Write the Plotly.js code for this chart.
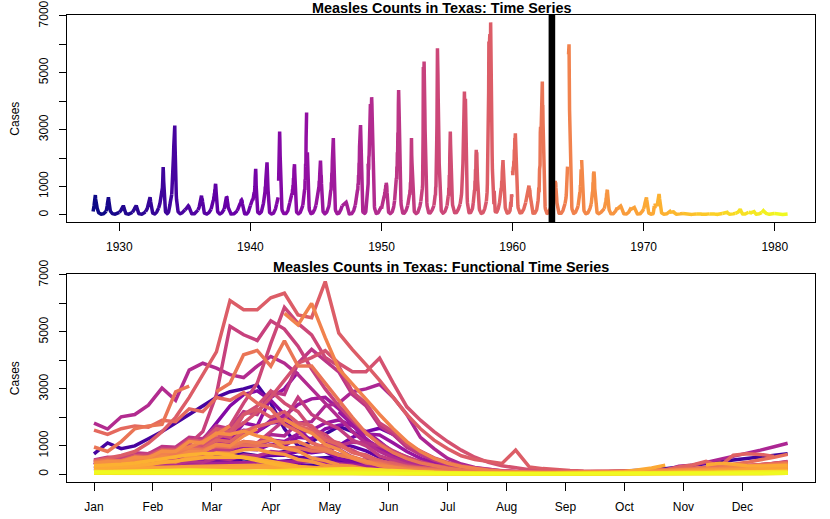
<!DOCTYPE html>
<html>
<head>
<meta charset="utf-8">
<script src="https://cdn.plot.ly/plotly-3.0.1.min.js"></script>
<style>html,body{margin:0;padding:0;background:#fff;}#chart{width:830px;height:519px;}</style>
</head>
<body>
<div id="chart"></div>
<script>
// Weekly measles counts in Texas, one array per year (weeks 1..52)
const years = [1928,1929,1930,1931,1932,1933,1934,1935,1936,1937,1938,1939,1940,1941,1942,1943,1944,1945,1946,1947,1948,1949,1950,1951,1952,1953,1954,1955,1956,1957,1958,1959,1960,1961,1962,1963,1964,1965,1966,1967,1968,1969,1970,1971,1972,1973,1974,1975,1976,1977,1978,1979,1980];
const y1928 = [120,150,180,260,330,420,480,560,650,700,560,420,480, 500,380,300,240,190,150,120,100,90,80,70,60,55, 50,45,40,35,30,30,28,25,25,22,25,28,30, 32,35,40,45,50,55,60,70,80,90,100,110,120];
const y1929 = [130,160,200,260,320,400,480,550,600,620,520,380,300, 280,240,200,160,130,110,95,80,70,60,55,50,45, 40,35,32,30,28,26,25,24,25,26,28,30,32, 35,38,42,46,50,55,60,65,70,75,80,85,90];
const y1930 = [90,95,100,110,120,130,150,170,190,210,230,250,270, 290,300,310,320,300,260,220,180,140,110,90,70,60, 50,45,40,35,30,28,26,25,24,24,25,26,28, 30,34,38,42,46,50,55,60,65,70,75,80,85];
const y1931 = [90,100,110,120,135,150,170,190,210,240,260,280,300, 315,325,330,300,260,220,180,150,120,100,80,65,55, 45,40,35,30,28,26,25,24,23,23,24,25,27, 30,33,36,40,45,50,55,60,70,80,90,100,110];
const y1932 = [110,120,130,150,170,190,210,230,260,290,320,350,380, 420,460,500,550,600,620,560,480,400,320,250,190,150, 120,95,80,65,55,48,42,38,35,34,35,38,42, 48,55,62,70,80,95,110,125,140,160,180,200,220];
const y1933 = [240,260,290,320,360,400,450,500,560,620,680,720,650, 700,800,950,1150,1400,1680,1500,1200,900,650,450,320,230, 170,130,100,80,70,60,55,50,50,55,60,70,85, 100,130,160,200,250,300,360,430,500,560,620,680,720];
const y1934 = [720,1100,900,1000,1250,1500,1800,2100,2400,2700,2900,3000,3140, 2500,1600,1000,900,850,700,550,420,320,250,190,150,120, 100,85,70,60,55,50,45,42,40,40,42,45,50, 55,60,70,80,90,100,110,120,130,140,150,160,170];
const y1935 = [170,175,180,190,200,210,220,235,250,265,280,295,305, 315,320,310,290,260,230,200,170,140,115,95,80,65, 55,48,42,38,35,32,30,30,30,32,35,38,42, 48,55,62,70,80,90,100,110,120,130,140,150,160];
const y1936 = [170,180,200,220,250,280,320,360,400,450,500,560,620, 660,680,600,560,550,480,380,290,220,170,130,100,80, 65,55,48,42,38,35,33,32,32,33,35,38,42, 48,55,62,70,80,90,100,110,125,140,155,170,190];
const y1937 = [200,230,220,280,270,340,330,420,410,520,500,640,620, 760,740,900,880,1040,1090,980,820,600,480,330,260,180, 130,100,80,65,55,48,42,38,35,34,35,38,42, 48,55,62,70,80,90,100,115,130,145,160,175,190];
const y1938 = [200,250,240,340,330,460,440,580,560,640,600,620,520, 490,380,360,260,240,180,160,115,100,72,62,50,42, 36,32,30,28,27,26,26,26,27,28,30,33,36, 40,45,50,56,62,70,80,90,100,110,120,130,140];
const y1939 = [150,170,160,200,190,240,230,280,270,340,320,400,380, 450,440,510,500,530,510,490,400,350,260,215,160,120, 95,75,60,50,42,37,33,31,30,30,32,35,40, 46,54,64,76,90,110,130,150,175,200,230,260,300];
const y1940 = [330,360,380,420,400,460,440,500,480,560,520,640,600, 720,680,800,760,820,1000,1300,1500,1620,1400,1000,700,480, 320,220,150,110,85,70,60,52,48,46,46,48,52, 58,66,76,90,105,125,150,180,210,250,290,330,380];
const y1941 = [420,480,500,620,600,760,820,1000,940,1200,1300,1550,1500, 1800,1850,1600,1500,1100,880,600,440,280,210,140,100,75, 60,50,44,40,37,35,34,34,35,37,40,45,52, 60,70,82,96,112,130,150,175,200,230,260,300,340];
const y1942 = [380,420,460,500,540,580,620,null,1200,1800,2400,2800,2930, 2600,2100,1600,1150,800,560,400,290,210,160,120,95,78, 65,56,50,46,43,41,40,40,41,43,46,50,56, 64,74,86,100,118,140,165,195,230,270,310,350,390];
const y1943 = [420,460,440,520,480,560,520,640,600,760,700,900,860, 1050,1000,1300,1250,1600,1720,1780,1500,1150,760,520,350,240, 170,125,95,75,62,54,48,44,42,42,44,48,54, 62,72,84,98,114,132,152,174,198,224,252,282,314];
const y1944 = [340,410,400,520,500,680,660,900,880,1250,1200,1800,1700, 2700,3000,3600,null,null,2200,1750,1200,950,620,480,320,250, 175,130,100,80,66,56,49,45,43,43,45,49,55, 63,73,85,99,115,133,153,175,199,225,253,283,315];
const y1945 = [340,400,380,460,450,560,520,640,620,800,760,950,1000, 1200,1150,1420,1550,1800,1910,1700,1420,1380,1100,800,560,390, 270,190,140,105,82,68,58,51,47,45,45,47,51, 57,65,75,88,103,120,140,163,188,215,245,278,313];
const y1946 = [350,420,400,520,500,680,640,880,850,1150,1100,1450,1500, 1900,2050,2450,2650,2700,2300,1750,1250,880,610,420,290,205, 150,112,87,71,60,53,48,45,44,44,46,49,54, 61,70,81,94,109,126,145,166,189,214,241,270,301];
const y1947 = [320,330,340,350,360,370,380,390,400,410,420,430,435, 440,445,440,445,420,380,330,270,210,160,120,90,70, 55,45,40,36,34,33,32,32,33,35,38,42,48, 55,63,73,85,100,118,138,160,185,212,242,275,310];
const y1948 = [340,400,380,470,450,560,540,700,680,880,860,1100,1050, 1400,1350,1800,1850,2400,2500,2900,3000,3160,2700,2100,1300,900, 560,360,240,165,120,92,75,64,57,53,52,53,56, 61,70,90,130,280,320,420,520,620,740,850,970,1090];
const y1949 = [1800,1590,2020,2100,2430,3030,2600,3660,3900,3730,3500,3400,3800, 4140,3900,3500,3000,2500,2000,1500,1100,800,580,420,300,220, 165,125,98,80,68,60,55,52,51,52,55,60,67, 76,87,100,115,132,150,170,190,210,230,250,270,290];
const y1950 = [220,260,240,310,290,380,350,460,420,560,520,680,640, 800,760,920,880,1050,1000,1130,1100,1000,800,600,430,300, 210,150,110,85,70,60,54,50,48,48,50,54,60, 68,78,90,104,120,140,165,195,230,270,320,380,450];
const y1951 = [500,600,580,760,720,980,950,1300,1250,1700,1600,2200,2100, 2900,2800,3900,4390,4000,3600,2800,2400,1700,1400,950,700,500, 360,260,190,140,110,90,76,66,60,57,56,58,62, 68,76,86,98,112,128,146,166,188,212,238,266,296];
const y1952 = [330,380,360,460,440,580,560,720,700,880,860,1150,1100, 1500,1900,2700,2100,1830,1600,1200,1000,650,500,340,250,185, 140,108,86,72,62,56,52,50,50,52,56,62,70, 80,93,108,126,147,171,198,228,261,297,336,378,423];
const y1953 = [470,520,580,650,730,820,930,1060,1500,2800,5200,4900,4700, 5390,5100,4500,3700,3000,2400,1900,1450,1100,820,600,440,320, 235,175,135,108,90,78,70,64,61,60,62,66,72, 80,90,102,116,132,150,170,192,216,242,270,300,330];
const y1954 = [330,400,380,520,500,700,680,960,1000,1500,1700,2500,3200, 4600,5860,5300,4900,4100,3800,2900,2500,1800,1500,1050,820,580, 420,300,220,165,128,103,86,75,68,64,62,63,66, 71,78,87,98,111,126,143,162,183,206,231,258,287];
const y1955 = [320,380,360,500,480,680,640,950,900,1400,1300,2100,2400, 2930,2500,2200,1600,1400,1000,850,600,500,350,300,210,170, 140,118,100,88,80,75,72,70,70,72,76,82,90, 100,112,126,142,160,180,202,226,252,280,310,342,376];
const y1956 = [380,420,470,530,600,680,780,900,1050,1250,1500,1800,2200, 2700,3300,3900,4100,4340,3900,3600,3600,4080,3200,2370,1900,1500, 1150,850,600,420,300,220,165,128,103,88,79,74,72, 73,76,82,90,101,115,132,152,175,201,230,262,297];
const y1957 = [420,500,470,650,620,880,850,1200,1150,1600,1500,2100,2285, 2000,2200,1800,1700,1250,1100,780,680,460,400,270,230,170, 132,105,86,73,64,58,54,52,52,54,58,64,72, 82,95,110,128,149,173,200,230,263,300,340,383,430];
const y1958 = [480,560,660,800,1100,1500,2000,2700,3500,4300,6100,5780,5780, 6200,6360,5600,5500,6770,4960,4380,3850,3300,2700,2100,1600,1200, 900,650,520,450,380,850,260,200,160,130,112,100,94, 92,94,100,110,124,142,164,190,220,254,292,334,380];
const y1959 = [420,480,460,600,580,760,720,950,900,1200,1150,1500,1680, 1800,1930,1700,1550,1200,1050,760,640,440,370,260,220,165, 132,108,91,79,71,66,63,62,63,66,71,78,88, 100,115,133,154,260,330,460,280,670,720,700,630,null];
const y1960 = [1550,1400,1600,1700,1650,1900,1850,2300,2200,2700,2600,2870,2500, 2300,1750,1500,1100,950,680,560,400,340,250,210,165,135, 113,97,86,78,73,70,69,70,72,76,82,90,100, 112,126,142,160,180,202,226,252,280,310,342,376,412];
const y1961 = [440,500,480,600,580,720,700,880,850,980,950,1030,1000, 1030,920,940,820,820,680,620,470,400,290,240,175,135, 106,86,73,64,58,55,54,54,56,60,66,74,84, 96,110,126,144,170,200,240,290,350,420,500,600,700];
const y1962 = [960,800,1150,1600,1700,1750,2900,3100,null,2900,3200,4200,4350, 3800,4690,3800,3800,3200,2600,2000,1450,1050,760,550,400,290, 210,155,118,93,77,67,61,58,57,58,62,68,76, 86,99,114,131,150,172,196,222,250,281,314,349,386];
const y1963 = [420,480,460,580,560,700,680,880,840,1050,1000,1150,1100, 1200,1100,1150,950,880,680,580,420,360,250,210,150,120, 95,78,66,58,53,50,48,48,49,52,56,62,70, 80,92,106,122,140,160,182,206,232,260,290,322,356];
const y1964 = [390,420,470,530,600,700,820,960,1150,1400,1700,null,null, null,5650,5250,6000,4800,3700,3150,2640,2100,1600,1150,800,560, 390,275,195,142,107,84,70,61,56,54,54,56,60, 66,74,84,96,110,126,144,164,186,210,236,264,294];
const y1965 = [320,380,360,480,460,620,600,800,780,1050,1000,1350,1600, null,1930,1650,1450,1050,870,580,460,300,245,170,135,102, 82,68,58,51,47,45,44,44,46,49,54,60,68, 78,90,104,120,138,158,180,204,230,258,288,320,354];
const y1966 = [380,450,430,600,580,820,800,1150,1100,1450,1400,1520,1350, 1250,930,820,570,480,330,280,190,160,112,96,76,64, 56,50,47,45,44,45,47,50,55,61,68,77,88, 96,104,112,120,128,136,144,152,160,170,180,190,200];
const y1967 = [220,260,250,330,320,450,430,600,580,760,740,860,880, 760,700,520,450,310,260,180,150,108,90,68,57,48, 42,38,35,33,32,32,33,35,38,42,47,53,60, 68,78,89,101,114,128,143,159,176,194,213,233,254];
const y1968 = [200,205,210,220,230,245,260,275,290,300,310,312,314, 316,300,270,235,200,165,135,110,90,74,61,51,43, 37,33,30,28,27,26,26,27,28,30,33,37,42, 48,55,63,72,82,93,105,118,132,147,163,180,198];
const y1969 = [190,195,200,205,212,220,228,236,244,252,258,263,267, 269,270,260,240,215,185,155,128,105,86,70,58,48, 41,36,32,29,27,26,26,26,27,29,32,36,41, 47,54,62,71,81,92,104,117,131,146,162,179,197];
const y1970 = [210,230,260,300,350,410,470,530,580,600,605,610,540, 450,360,280,215,165,127,98,77,62,51,43,37,33, 30,28,27,26,26,26,27,28,30,33,37,45,60, 90,150,220,320,null,null,330,390,350,300,290,300,310];
const y1971 = [300,320,350,400,460,540,620,690,720,730,680,580,470, 370,285,220,170,132,103,81,65,53,44,38,34,31, 29,27,26,25,25,25,25,26,27,28,30,32,35, 38,42,46,51,56,62,68,75,82,90,98,107,116];
const y1972 = [90,92,95,98,102,106,110,115,120,125,128,130,125, 118,108,96,84,72,61,52,44,38,33,29,26,24, 22,21,20,20,20,20,21,22,23,24,26,28,30, 32,34,36,38,40,42,44,46,48,50,52,54,56];
const y1973 = [50,48,46,45,44,43,42,42,41,41,40,40,39, 38,37,36,35,33,31,29,27,25,24,22,21,20, 19,18,18,17,17,17,17,17,18,18,19,20,21, 22,23,24,25,26,27,28,29,30,31,32,33,34];
const y1974 = [35,36,37,38,39,40,41,42,43,44,44,45,45, 44,43,42,40,38,35,32,29,26,24,22,20,19, 18,17,16,16,16,16,16,17,17,18,19,20,21, 22,23,24,25,26,27,28,29,30,31,32,33,34];
const y1975 = [36,37,38,40,42,44,46,48,50,52,53,54,55, 54,52,49,46,42,38,34,30,27,24,22,20,19, 18,17,17,17,17,17,18,18,19,20,21,22,23, 24,26,28,30,32,34,36,38,40,42,44,46,48];
const y1976 = [50,52,54,56,58,60,62,64,66,70,75,80,86, 92,100,108,113,115,105,90,75,62,52,44,38,33, 29,26,24,22,21,20,20,20,21,22,23,24,26, 28,30,32,34,36,38,40,42,44,46,48,50,52];
const y1977 = [54,56,58,60,63,66,70,75,80,86,92,100,110, 120,135,150,165,180,192,200,180,150,120,95,75,60, 48,40,34,30,27,25,24,23,23,24,25,27,30, 34,38,43,48,54,60,66,72,78,84,90,95,100];
const y1978 = [95,90,86,82,78,75,72,70,70,72,75,80,86, 92,98,104,108,112,114,115,114,110,115,100,80,62, 48,38,31,26,23,21,20,20,20,21,22,24,26, 29,32,36,40,44,48,52,56,60,64,68,72,76];
const y1979 = [80,90,100,115,130,140,148,150,140,125,110,100,92, 86,80,74,68,62,56,50,45,40,36,32,29,26, 24,22,21,20,20,20,20,21,22,23,24,25,27, 29,31,33,35,37,39,41,43,45,47,49,51,53];
const y1980 = [52,50,48,47,46,45,44,44,43,43,42,42,41, 40,39,38,36,34,32,30,28,26,24,22,21,20, 19,18,18,17,17,17,17,17,18,18,19,20,21, 22,23,24,25,26,27,28,29,30,31,32,33,34];

const seriesByYear = [y1928,y1929,y1930,y1931,y1932,y1933,y1934,y1935,y1936,y1937,y1938,y1939,y1940,y1941,y1942,y1943,y1944,y1945,y1946,y1947,y1948,y1949,y1950,y1951,y1952,y1953,y1954,y1955,y1956,y1957,y1958,y1959,y1960,y1961,y1962,y1963,y1964,y1965,y1966,y1967,y1968,y1969,y1970,y1971,y1972,y1973,y1974,y1975,y1976,y1977,y1978,y1979,y1980];

const monthLabels = ["Jan","Feb","Mar","Apr","May","Jun","Jul","Aug","Sep","Oct","Nov","Dec"];
const yearTicks = [1930,1940,1950,1960,1970,1980];
const caseTicks = [0,1000,2000,3000,4000,5000,6000,7000];
const caseTickText = ["0","1000","","3000","","5000","","7000"];
const markerYear = 1963;

// plasma palette
const plasmaStops = ["#0d0887","#41049d","#6a00a8","#8f0da4","#b12a90","#cc4778","#e16462","#f2844b","#fca636","#fcce25","#f0f921"];
function hexToRgb(h){return [parseInt(h.slice(1,3),16),parseInt(h.slice(3,5),16),parseInt(h.slice(5,7),16)];}
function plasma(t){
  const n = plasmaStops.length-1;
  const p = Math.min(Math.max(t,0),1)*n;
  const i = Math.min(Math.floor(p), n-1);
  const f = p - i;
  const a = hexToRgb(plasmaStops[i]), b = hexToRgb(plasmaStops[i+1]);
  const c = a.map((v,k)=>Math.round(v+(b[k]-v)*f));
  return "rgb("+c.join(",")+")";
}

const weeks = Array.from({length:52},(_,i)=>i+1);
const traces = [];
const nY = years.length;
years.forEach((yr,i)=>{
  const col = plasma(i/(nY-1));
  const vals = seriesByYear[i].slice();
  const xs = weeks.map(w=>yr+(w-1)/52);
  // continue the line into the first week of the next year, as one continuous series
  if (i < nY-1 && vals[51] !== null && seriesByYear[i+1][0] !== null) {
    xs.push(yr+1); vals.push(seriesByYear[i+1][0]);
  }
  traces.push({
    x: xs, y: vals, type:"scatter", mode:"lines",
    line:{color:col,width:3.5}, xaxis:"x", yaxis:"y", hoverinfo:"skip", showlegend:false, connectgaps:false
  });
});
years.forEach((yr,i)=>{
  const col = plasma(i/(nY-1));
  traces.push({
    x: weeks, y: seriesByYear[i], type:"scatter", mode:"lines",
    line:{color:col,width:3.5}, xaxis:"x2", yaxis:"y2", hoverinfo:"skip", showlegend:false, connectgaps:false
  });
});

const font = {family:"Liberation Sans, Arial, Helvetica, sans-serif", size:12, color:"#000"};
const axBase = {
  showline:true, mirror:true, linecolor:"#000", linewidth:1, ticks:"outside", ticklen:7.5,
  tickcolor:"#000", tickwidth:1, showgrid:false, zeroline:false, tickfont:{size:12, color:"#000"}
};
const monthTicks = monthLabels.map((m,k)=>1+k*52/12);

const layout = {
  width:830, height:519,
  margin:{l:67, r:15, t:15, b:37},
  paper_bgcolor:"#fff", plot_bgcolor:"#fff",
  font: font,
  showlegend:false,
  xaxis: Object.assign({}, axBase, {domain:[0,1], anchor:"y", range:[1926.01,1983.07], tickvals:yearTicks, ticktext:yearTicks.map(String), ticklabelstandoff:6}),
  yaxis: Object.assign({}, axBase, {domain:[0.5561,1], anchor:"x", range:[-260,7030], tickvals:caseTicks, ticktext:caseTickText, tickangle:-90, ticklabelstandoff:6}),
  xaxis2: Object.assign({}, axBase, {domain:[0,1], anchor:"y2", range:[-0.985,54.01], tickvals:monthTicks, ticktext:monthLabels, ticklabelstandoff:6}),
  yaxis2: Object.assign({}, axBase, {domain:[0,0.4448], anchor:"x2", range:[-270,7025], tickvals:caseTicks, ticktext:caseTickText, tickangle:-90, ticklabelstandoff:6}),
  shapes:[{type:"line", xref:"x", yref:"y domain", x0:markerYear, x1:markerYear, y0:0, y1:1, line:{color:"#000", width:6.6}, layer:"above"}],
  annotations:[
    {text:"<b>Measles Counts in Texas: Time Series</b>", xref:"paper", yref:"paper", x:0.5, y:1, yanchor:"bottom", xanchor:"center", showarrow:false, font:{size:14.4, color:"#000"}, yshift:-3},
    {text:"<b>Measles Counts in Texas: Functional Time Series</b>", xref:"paper", yref:"paper", x:0.5, y:0.4448, yanchor:"bottom", xanchor:"center", showarrow:false, font:{size:14.4, color:"#000"}, yshift:-3},
    {text:"Cases", xref:"paper", yref:"paper", x:(15-67)/748, y:(0.5561+1)/2, xanchor:"center", yanchor:"middle", textangle:-90, showarrow:false, font:{size:12, color:"#000"}},
    {text:"Cases", xref:"paper", yref:"paper", x:(15-67)/748, y:0.4448/2, xanchor:"center", yanchor:"middle", textangle:-90, showarrow:false, font:{size:12, color:"#000"}}
  ]
};

Plotly.newPlot("chart", traces, layout, {staticPlot:true, displayModeBar:false});
</script>
</body>
</html>
